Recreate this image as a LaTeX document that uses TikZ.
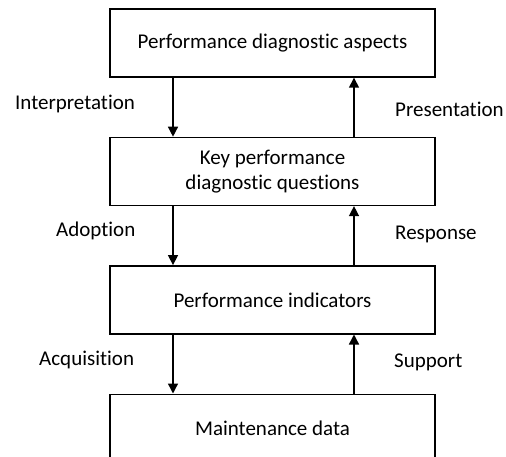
\documentclass[tikz,border=0pt]{standalone}
\usepackage{fontspec}
\setmainfont[Ligatures={NoCommon,NoDiscretionary,NoRare}]{Carlito}
\usetikzlibrary{arrows.meta,positioning}
\tikzset{
  stage/.style={draw, line width=1.4pt, minimum width=325pt, minimum height=68pt,
    align=center, font=\fontsize{21}{25}\selectfont},
  flowlabel/.style={anchor=west, inner sep=0pt, font=\fontsize{21}{25}\selectfont},
  flow/.style={line width=1.4pt, -{Triangle[length=10pt,width=10pt]}}
}

\begin{document}
\begin{tikzpicture}[x=1pt,y=-1pt,node distance=59pt]
  \useasboundingbox (0,0) rectangle (506,457);
  % the four stages
  \node [stage] (aspects) at (272.5,43) {Performance diagnostic aspects};
  \node [stage, below=of aspects] (questions) {Key performance\\diagnostic questions};
  \node [stage, below=of questions] (indicators) {Performance indicators};
  \node [stage, below=of indicators] (data) {Maintenance data};
  % downward flow
  \draw [flow] ([xshift=-99.5pt]aspects.south) -- ([xshift=-99.5pt]questions.north);
  \draw [flow] ([xshift=-99.5pt]questions.south) -- ([xshift=-99.5pt]indicators.north);
  \draw [flow] ([xshift=-99.5pt]indicators.south) -- ([xshift=-99.5pt]data.north);
  % upward flow
  \draw [flow] ([xshift=81.5pt]questions.north) -- ([xshift=81.5pt]aspects.south);
  \draw [flow] ([xshift=81.5pt]indicators.north) -- ([xshift=81.5pt]questions.south);
  \draw [flow] ([xshift=81.5pt]data.north) -- ([xshift=81.5pt]indicators.south);
  % labels
  \node [flowlabel] (interp) at (15,104) {Interpretation};
  \node [flowlabel] (pres) at (395,109) {Presentation};
  \node [flowlabel] (adopt) at (56,231) {Adoption};
  \node [flowlabel] (resp) at (395,234) {Response};
  \node [flowlabel] (acq) at (39,360) {Acquisition};
  \node [flowlabel] (supp) at (394,362) {Support};
\end{tikzpicture}
\end{document}
